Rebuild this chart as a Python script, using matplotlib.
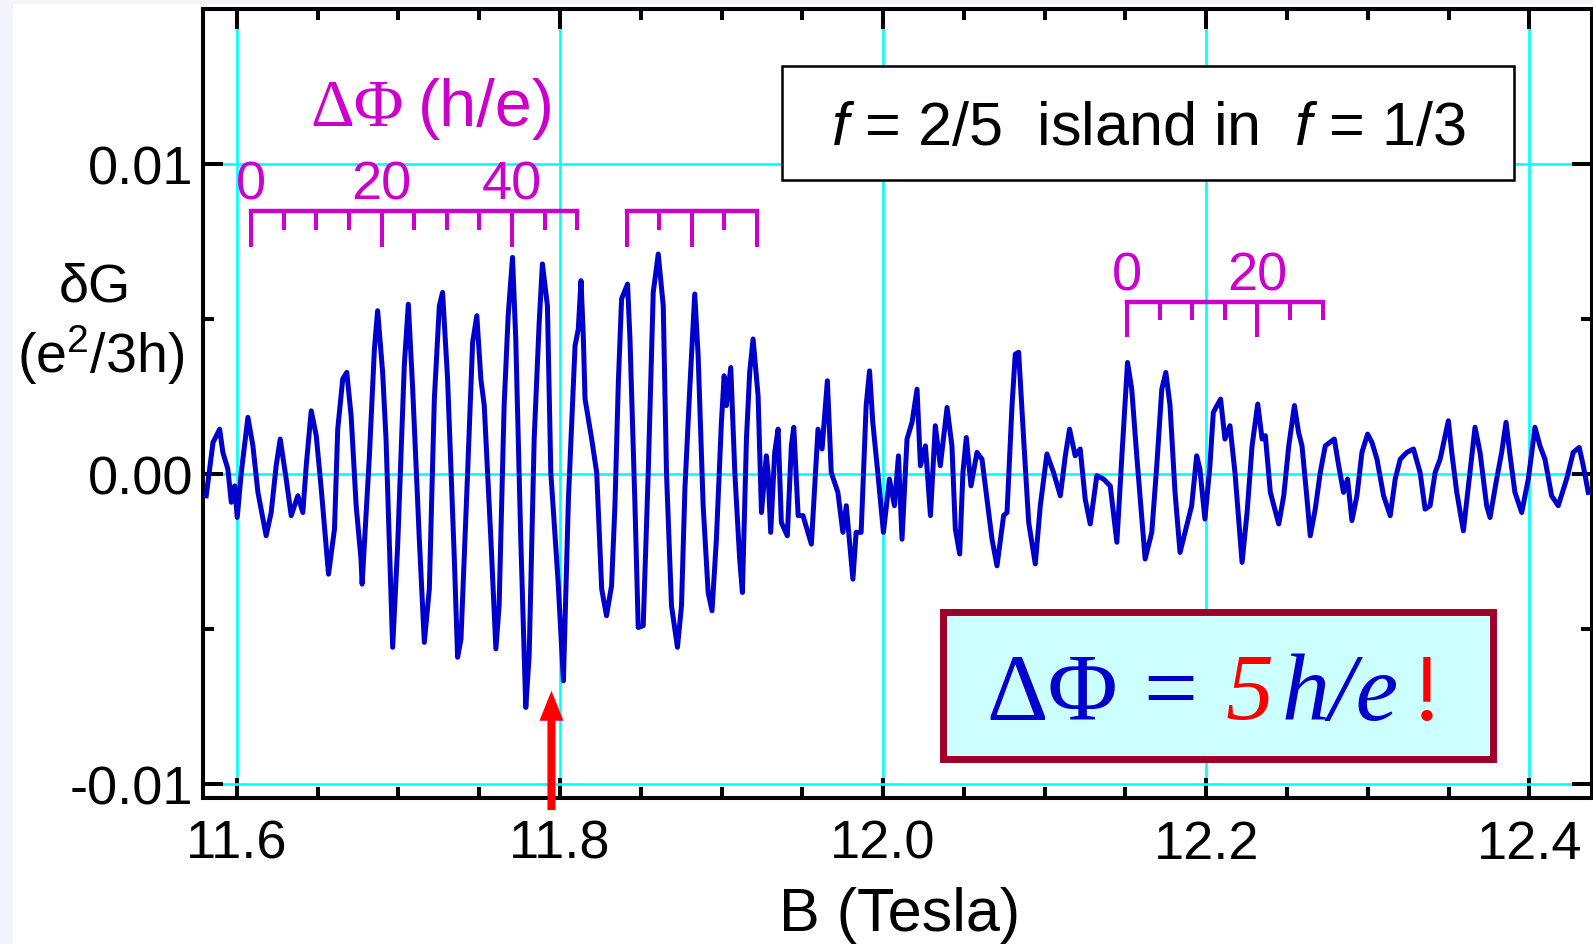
import matplotlib
matplotlib.use("Agg")
import matplotlib.pyplot as plt
import matplotlib.patches as patches
from matplotlib.ticker import FixedLocator, FixedFormatter, MultipleLocator

plt.rcParams['font.family'] = ['Liberation Sans', 'DejaVu Sans']
plt.rcParams['axes.unicode_minus'] = False
plt.rcParams['mathtext.fontset'] = 'custom'
plt.rcParams['mathtext.rm'] = 'Liberation Sans'
plt.rcParams['mathtext.it'] = 'Liberation Sans:italic'

# measured trace: field (Tesla) and conductance change (e^2/3h)
B = [
    11.5810, 11.5852, 11.5893, 11.5913, 11.5944, 11.5965, 11.5986, 11.6002, 11.6027, 11.6068,
    11.6099, 11.6130, 11.6181, 11.6212, 11.6243, 11.6268, 11.6305, 11.6336, 11.6377, 11.6408,
    11.6429, 11.6460, 11.6491, 11.6522, 11.6567, 11.6604, 11.6624, 11.6655, 11.6680, 11.6707,
    11.6738, 11.6768, 11.6775, 11.6793, 11.6820, 11.6851, 11.6871, 11.6902, 11.6923, 11.6964,
    11.6995, 11.7036, 11.7061, 11.7088, 11.7129, 11.7160, 11.7191, 11.7222, 11.7253, 11.7273,
    11.7304, 11.7345, 11.7366, 11.7387, 11.7428, 11.7459, 11.7485, 11.7510, 11.7531, 11.7572,
    11.7603, 11.7623, 11.7654, 11.7679, 11.7706, 11.7726, 11.7757, 11.7788, 11.7809, 11.7840,
    11.7871, 11.7891, 11.7922, 11.7943, 11.7988, 11.8021, 11.8052, 11.8093, 11.8113, 11.8130,
    11.8144, 11.8155, 11.8196, 11.8227, 11.8258, 11.8288, 11.8319, 11.8340, 11.8361, 11.8381,
    11.8418, 11.8433, 11.8464, 11.8484, 11.8515, 11.8546, 11.8577, 11.8608, 11.8639, 11.8659,
    11.8690, 11.8727, 11.8752, 11.8773, 11.8803, 11.8834, 11.8855, 11.8886, 11.8917, 11.8941,
    11.8968, 11.8999, 11.9016, 11.9030, 11.9057, 11.9082, 11.9112, 11.9129, 11.9154, 11.9174,
    11.9195, 11.9226, 11.9247, 11.9277, 11.9288, 11.9304, 11.9329, 11.9350, 11.9370, 11.9407,
    11.9432, 11.9447, 11.9474, 11.9504, 11.9556, 11.9597, 11.9622, 11.9655, 11.9679, 11.9720,
    11.9751, 11.9772, 11.9813, 11.9833, 11.9864, 11.9895, 11.9916, 11.9936, 11.9967, 12.0002,
    12.0039, 12.0070, 12.0095, 12.0117, 12.0148, 12.0179, 12.0210, 12.0231, 12.0262, 12.0293,
    12.0323, 12.0354, 12.0396, 12.0426, 12.0447, 12.0474, 12.0494, 12.0515, 12.0544, 12.0581,
    12.0612, 12.0643, 12.0674, 12.0705, 12.0746, 12.0767, 12.0798, 12.0818, 12.0839, 12.0870,
    12.0901, 12.0942, 12.0973, 12.1014, 12.1055, 12.1097, 12.1128, 12.1154, 12.1189, 12.1220,
    12.1251, 12.1282, 12.1323, 12.1364, 12.1406, 12.1447, 12.1478, 12.1513, 12.1539, 12.1570,
    12.1622, 12.1663, 12.1694, 12.1725, 12.1750, 12.1776, 12.1807, 12.1838, 12.1869, 12.1910,
    12.1941, 12.1961, 12.1992, 12.2023, 12.2044, 12.2089, 12.2116, 12.2147, 12.2178, 12.2222,
    12.2253, 12.2284, 12.2319, 12.2346, 12.2366, 12.2397, 12.2449, 12.2480, 12.2511, 12.2546,
    12.2572, 12.2593, 12.2624, 12.2644, 12.2675, 12.2706, 12.2737, 12.2793, 12.2820, 12.2850,
    12.2875, 12.2902, 12.2933, 12.2964, 12.2999, 12.3026, 12.3057, 12.3098, 12.3139, 12.3170,
    12.3201, 12.3242, 12.3283, 12.3324, 12.3355, 12.3386, 12.3417, 12.3448, 12.3499, 12.3520,
    12.3551, 12.3592, 12.3623, 12.3664, 12.3695, 12.3736, 12.3757, 12.3798, 12.3829, 12.3856,
    12.3881, 12.3911, 12.3953, 12.3994, 12.4035, 12.4066, 12.4097, 12.4138, 12.4179, 12.4231,
    12.4272, 12.4309, 12.4334, 12.4365,
]
dG = [
    -0.00069, 0.00103, 0.00146, 0.00071, 0.00017, -0.00090, -0.00037, -0.00139, 0.00006, 0.00184,
    0.00092, -0.00058, -0.00198, -0.00123, 0.00028, 0.00114, -0.00015, -0.00133, -0.00069, -0.00123,
    0.00028, 0.00205, 0.00125, -0.00047, -0.00322, -0.00176, 0.00146, 0.00308, 0.00329, 0.00189,
    -0.00101, -0.00273, -0.00354, -0.00187, 0.00060, 0.00404, 0.00528, 0.00329, 0.00114, -0.00558,
    -0.00230, 0.00351, 0.00549, 0.00275, -0.00209, -0.00542, -0.00370, 0.00243, 0.00544, 0.00587,
    0.00308, -0.00262, -0.00590, -0.00531, 0.00006, 0.00426, 0.00512, 0.00308, 0.00222, -0.00209,
    -0.00563, -0.00424, 0.00222, 0.00512, 0.00700, 0.00437, -0.00209, -0.00752, -0.00585, 0.00114,
    0.00490, 0.00679, 0.00544, 0.00006, -0.00345, -0.00666, -0.00080, 0.00415, 0.00469, 0.00625,
    0.00447, 0.00243, 0.00114, 0.00006, -0.00370, -0.00456, -0.00359, -0.00101, 0.00297, 0.00566,
    0.00614, 0.00437, -0.00101, -0.00494, -0.00488, 0.00006, 0.00587, 0.00711, 0.00544, 0.00006,
    -0.00424, -0.00558, -0.00424, -0.00047, 0.00275, 0.00582, 0.00383, -0.00101, -0.00381, -0.00440,
    -0.00209, 0.00168, 0.00318, 0.00222, 0.00345, 0.00006, -0.00273, -0.00381, 0.00114, 0.00329,
    0.00437, 0.00254, -0.00123, 0.00060, 0.00006, -0.00187, 0.00071, 0.00146, -0.00155, -0.00198,
    0.00092, 0.00152, -0.00133, -0.00133, -0.00225, 0.00146, 0.00082, 0.00302, 0.00006, -0.00058,
    -0.00187, -0.00101, -0.00338, -0.00187, -0.00187, 0.00222, 0.00334, 0.00168, 0.00006, -0.00187,
    -0.00015, -0.00101, 0.00060, -0.00209, 0.00114, 0.00168, 0.00275, 0.00028, 0.00092, -0.00133,
    0.00157, 0.00028, 0.00216, 0.00092, -0.00176, -0.00257, 0.00006, 0.00119, -0.00037, 0.00071,
    0.00049, -0.00080, -0.00209, -0.00295, -0.00133, -0.00123, 0.00222, 0.00388, 0.00394, 0.00114,
    -0.00155, -0.00289, -0.00101, 0.00066, 0.00006, -0.00069, 0.00060, 0.00146, 0.00060, 0.00082,
    -0.00080, -0.00160, -0.00004, -0.00015, -0.00037, -0.00219, 0.00060, 0.00361, 0.00275, 0.00060,
    -0.00273, -0.00187, 0.00028, 0.00275, 0.00329, 0.00222, -0.00058, -0.00252, -0.00187, -0.00101,
    0.00060, 0.00017, -0.00144, 0.00028, 0.00200, 0.00243, 0.00114, 0.00157, 0.00006, -0.00284,
    -0.00123, 0.00092, 0.00227, 0.00114, 0.00125, -0.00058, -0.00160, -0.00069, 0.00092, 0.00222,
    0.00135, 0.00092, -0.00080, -0.00198, -0.00112, 0.00006, 0.00092, 0.00114, 0.00028, -0.00058,
    -0.00015, -0.00149, -0.00069, 0.00071, 0.00130, 0.00103, 0.00049, -0.00069, -0.00133, -0.00015,
    0.00049, 0.00071, 0.00082, 0.00006, -0.00112, -0.00101, 0.00006, 0.00049, 0.00173, 0.00071,
    -0.00058, -0.00182, -0.00037, 0.00152, 0.00071, -0.00101, -0.00139, -0.00015, 0.00071, 0.00168,
    0.00060, -0.00058, -0.00123, -0.00015, 0.00152, 0.00092, 0.00049, -0.00069, -0.00101, -0.00015,
    0.00071, 0.00087, 0.00028, -0.00058,
]

x_ticks = [11.6, 11.8, 12.0, 12.2, 12.4]
x_tick_labels = ['11.6', '11.8', '12.0', '12.2', '12.4']
y_ticks = [-0.01, 0.0, 0.01]
y_tick_labels = ['-0.01', '0.00', '0.01']

# field step of one oscillation (= 5 h/e of flux)
period_B = 0.0202
# flux scale bars drawn over the trace
bar_start = [11.6087, 11.8412, 12.1509]
bar_periods = [10, 4, 6]
bar_level = [0.0085, 0.0085, 0.00557]
bar_long_every = [4, 2, 4]
bar_labels = [[0, 20, 40], [], [0, 20]]

# red marker arrow
arrow_B = 11.7947
arrow_tip = -0.00698
arrow_tail = -0.01083

MAGENTA = '#cc00cc'
TRACE = '#0000cc'


def draw_flux_bar(ax, b0, n, y, long_every, labels):
    b1 = b0 + n * period_B
    ax.plot([b0, b1], [y, y], color=MAGENTA, lw=3.2, solid_capstyle='projecting', zorder=4)
    for i in range(n + 1):
        bx = b0 + i * period_B
        drop = 0.00115 if i % long_every == 0 else 0.0006
        ax.plot([bx, bx], [y, y - drop], color=MAGENTA, lw=2.9, solid_capstyle='butt', zorder=4)
    for flux in labels:
        bx = b0 + flux / 5 * period_B
        ax.text(bx, y + 0.0004, str(flux), color=MAGENTA, fontsize=39,
                ha='center', va='baseline', zorder=4)


fig = plt.figure(figsize=(15.93, 9.45), dpi=100)
fig.patch.set_facecolor('#f4f4fc')
fig.add_artist(patches.Rectangle((13 / 1593, 0), 1, 1 - 5 / 945, transform=fig.transFigure,
                                 facecolor='white', edgecolor='none', zorder=-10))

ax = fig.add_axes([203 / 1593, 1 - 799 / 945, 1388.5 / 1593, 789.5 / 945])
ax.plot(B, dG, color=TRACE, lw=3.6, zorder=3)

ax.set_xlim(11.579, 12.4385)
ax.set_ylim(-0.01044, 0.01503)

ax.xaxis.set_major_locator(FixedLocator(x_ticks))
ax.xaxis.set_major_formatter(FixedFormatter(x_tick_labels))
ax.xaxis.set_minor_locator(MultipleLocator(0.05))
ax.yaxis.set_major_locator(FixedLocator(y_ticks))
ax.yaxis.set_major_formatter(FixedFormatter(y_tick_labels))
ax.yaxis.set_minor_locator(FixedLocator([-0.005, 0.005]))

ax.tick_params(which='both', direction='in', top=True, right=True, width=2.9, labelsize=39)
ax.tick_params(which='major', length=14.4)
ax.tick_params(which='minor', length=8)
ax.tick_params(axis='x', pad=15)
ax.tick_params(axis='y', pad=7)
for sp in ax.spines.values():
    sp.set_linewidth(2.9)

ax.set_axisbelow(True)
ax.grid(True, which='major', color='#00ffff', lw=1.9)

fig.text(95 / 1593, 1 - 301 / 945, 'δG', fontsize=39, ha='center', va='baseline')
fig.text(101 / 1593, 1 - 373 / 945, r'(e$^{2}$/3h)', fontsize=40, ha='center', va='baseline')
fig.text(900 / 1593, 1 - 931 / 945, 'B (Tesla)', fontsize=44, ha='center', va='baseline')

# flux scale bars and their caption
for b0, n, y, le, lab in zip(bar_start, bar_periods, bar_level, bar_long_every, bar_labels):
    draw_flux_bar(ax, b0, n, y, le, lab)
ax.text(11.7035, 0.01127, 'ΔΦ', family='Liberation Serif', fontsize=49, color=MAGENTA,
        ha='right', va='baseline', zorder=4)
ax.annotate('(h/e)', xy=(11.7035, 0.01127), xytext=(10, 0), textcoords='offset points',
            fontsize=48, color=MAGENTA, ha='left', va='baseline', zorder=4)

# filling-factor caption box
ax.add_patch(patches.Rectangle((0.4170, 0.7828), 0.5272, 0.1444, transform=ax.transAxes,
                               facecolor='white', edgecolor='black', lw=1.8, zorder=5))
ax.text(0.6806, 0.8284, r'$f$ = 2/5  island in  $f$ = 1/3', transform=ax.transAxes,
        fontsize=44, ha='center', va='baseline', zorder=6)

# result box
ax.add_patch(patches.Rectangle((0.5326, 0.0488), 0.3968, 0.1874, transform=ax.transAxes,
                               facecolor='#ccffff', edgecolor='#a00028', lw=5, zorder=5))
serif = 'Liberation Serif'
t = ax.text(0.5639, 0.1001, 'ΔΦ', transform=ax.transAxes, family=serif, fontsize=69,
            color=TRACE, ha='left', va='baseline', zorder=6)
pieces = [('=', TRACE, 'normal', 18.7), ('5', 'red', 'italic', 20),
          ('h/e', TRACE, 'italic', 6), ('!', 'red', 'normal', 8.6)]
for s, c, style, gap in pieces:
    t = ax.annotate(s, xy=(1, 0), xycoords=t, xytext=(gap, 0), textcoords='offset points',
                    family=serif, fontsize=69, color=c, style=style,
                    ha='left', va='bottom', zorder=6)

# arrow marking the ΔΦ = 5 h/e spacing
ax.annotate('', xy=(arrow_B, arrow_tip), xytext=(arrow_B, arrow_tail),
            arrowprops=dict(arrowstyle='simple,head_length=2.16,head_width=1.73,tail_width=0.58',
                            mutation_scale=10, fc='red', ec='none', shrinkA=0, shrinkB=0,
                            clip_on=False),
            annotation_clip=False, zorder=6)

fig.savefig('out.png', dpi=100)
